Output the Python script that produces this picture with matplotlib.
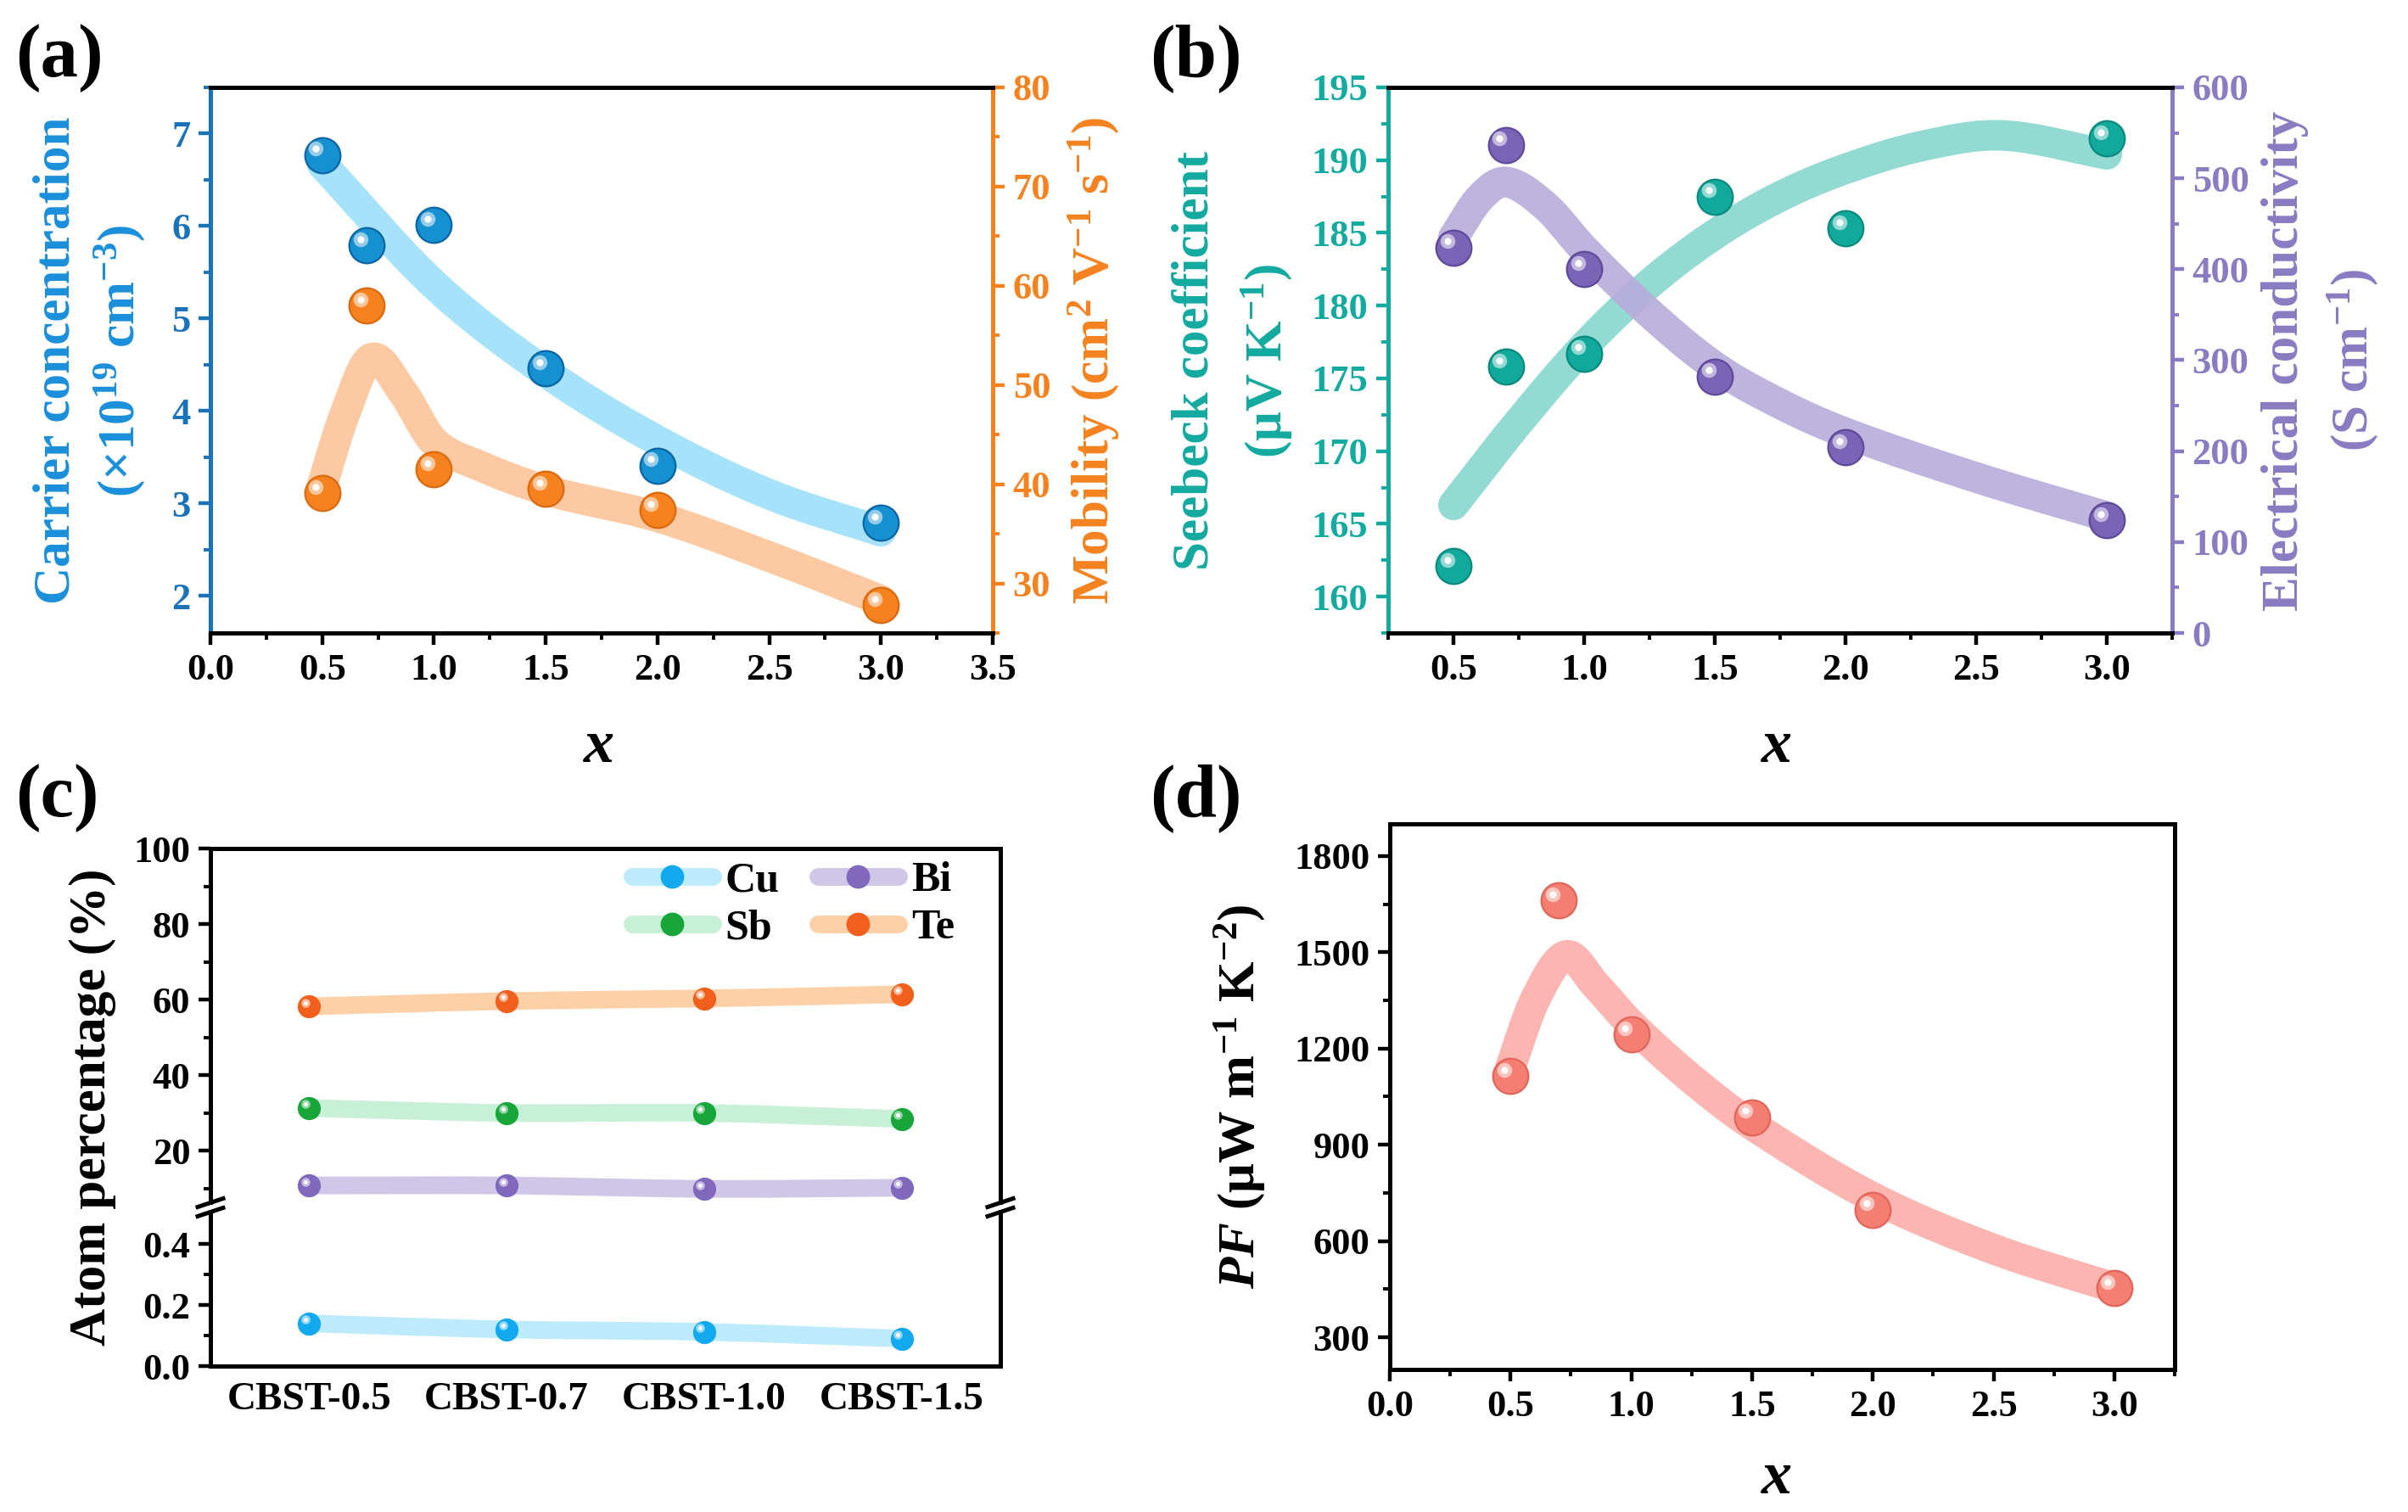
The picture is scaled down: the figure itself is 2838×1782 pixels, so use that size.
import numpy as np
import matplotlib
matplotlib.use('Agg')
import matplotlib.pyplot as plt
from matplotlib.ticker import MultipleLocator, FormatStrFormatter
from matplotlib.transforms import ScaledTranslation
from matplotlib.lines import Line2D

plt.rcParams['font.family'] = ['Liberation Serif', 'DejaVu Serif']
plt.rcParams['font.weight'] = 'bold'
plt.rcParams['mathtext.fontset'] = 'custom'
plt.rcParams['mathtext.rm'] = 'Liberation Serif:bold'
plt.rcParams['mathtext.it'] = 'Liberation Serif:bold:italic'
plt.rcParams['mathtext.bf'] = 'Liberation Serif:bold'
plt.rcParams['axes.unicode_minus'] = True

# ---------------- data ----------------
x_vals = [0.5, 0.7, 1.0, 1.5, 2.0, 3.0]
carrier = [6.77, 5.79, 6.01, 4.46, 3.41, 2.79]
mobility = [39.1, 58.0, 41.5, 39.5, 37.4, 27.8]
seebeck = [162.1, 175.8, 176.7, 187.5, 185.3, 191.5]
conductivity = [424, 537, 400, 282, 204, 124]
power_factor = [1114, 1662, 1244, 986, 698, 453]

# guide-to-eye trend curves
carrier_trend_x = [0.5, 1.0, 1.5, 2.0, 2.5, 3.0]
carrier_trend = [6.67, 5.37, 4.42, 3.68, 3.10, 2.70]
mobility_trend_x = [0.5, 0.6, 0.72, 0.86, 1.0, 1.2, 1.5, 2.0, 2.5, 3.0]
mobility_trend = [39.9, 47.0, 52.7, 49.3, 44.3, 41.9, 39.4, 36.7, 32.7, 28.3]
seebeck_trend_x = [0.5, 0.75, 1.0, 1.25, 1.5, 1.75, 2.0, 2.3, 2.6, 3.0]
seebeck_trend = [166.3, 172.0, 177.2, 181.5, 184.9, 187.5, 189.4, 191.0, 191.7, 190.4]
cond_trend_x = [0.5, 0.6, 0.7, 0.85, 1.0, 1.25, 1.5, 1.75, 2.0, 2.5, 3.0]
cond_trend = [435, 478, 496, 470, 422, 352, 293, 252, 220, 171, 128]
pf_trend_x = [0.5, 0.6, 0.73, 0.85, 1.0, 1.25, 1.5, 2.0, 2.5, 3.0]
pf_trend = [1142, 1350, 1490, 1400, 1275, 1105, 962, 736, 575, 455]

samples = ['CBST-0.5', 'CBST-0.7', 'CBST-1.0', 'CBST-1.5']
cu_pct = [0.14, 0.12, 0.112, 0.09]
bi_pct = [10.8, 10.8, 9.9, 10.2]
sb_pct = [31.3, 30.0, 30.0, 28.4]
te_pct = [58.2, 59.6, 60.3, 61.4]


def smooth(xk, yk, xs):
    """Cubic Hermite curve with centred-difference tangents (Catmull-Rom style)."""
    xk = np.asarray(xk, float)
    yk = np.asarray(yk, float)
    h = np.diff(xk)
    m = np.zeros_like(yk)
    m[1:-1] = (yk[2:] - yk[:-2]) / (xk[2:] - xk[:-2])
    m[0] = (yk[1] - yk[0]) / h[0]
    m[-1] = (yk[-1] - yk[-2]) / h[-1]
    idx = np.clip(np.searchsorted(xk, xs) - 1, 0, len(h) - 1)
    t = (xs - xk[idx]) / h[idx]
    h00 = 2 * t**3 - 3 * t**2 + 1
    h10 = t**3 - 2 * t**2 + t
    h01 = -2 * t**3 + 3 * t**2
    h11 = t**3 - t**2
    return h00 * yk[idx] + h10 * h[idx] * m[idx] + h01 * yk[idx + 1] + h11 * h[idx] * m[idx + 1]


W, H = 2838, 1782
DPI = 200
fig = plt.figure(figsize=(W / DPI, H / DPI), dpi=DPI)

TICK_FS = 16
LAB_FS = 22
PANEL_FS = 32
X_FS = 26


def band(ax, xk, yk, color, lw=13, z=1):
    xs = np.linspace(xk[0], xk[-1], 400)
    ax.plot(xs, smooth(xk, yk, xs), color=color, lw=lw, solid_capstyle='round', zorder=z)


def spheres(ax, x, y, color, edge, ms=15, z=5):
    ax.plot(x, y, 'o', ms=ms, color=color, mec=edge, mew=0.8, zorder=z, clip_on=False)
    off = ax.transData + ScaledTranslation(-ms * 0.18 / 72, ms * 0.18 / 72, fig.dpi_scale_trans)
    ax.plot(x, y, 'o', ms=ms * 0.42, color='white', alpha=0.55, mew=0, zorder=z + 1,
            transform=off, clip_on=False)
    ax.plot(x, y, 'o', ms=ms * 0.2, color='white', alpha=0.95, mew=0, zorder=z + 2,
            transform=off, clip_on=False)


def style_ticks(ax, which_axes='both', color='black', labelcolor='black'):
    ax.tick_params(axis=which_axes, which='major', direction='out', length=5, width=1.6,
                   labelsize=TICK_FS, colors=color, labelcolor=labelcolor)
    ax.tick_params(axis=which_axes, which='minor', direction='out', length=3, width=1.4,
                   colors=color)


def fig_text(px, py, s, **kw):
    fig.text(px / W, 1 - py / H, s, **kw)


# ---------------- (a) ----------------
blue_band, blue_mk, blue_edge = '#a6e3fb', '#1590d0', '#0b65a5'
blue_axis, blue_lab = '#1a72b8', '#1b8fdb'
orange_band, orange_mk, orange_edge = '#fdc9a3', '#f5821f', '#d96a10'

ax_a = fig.add_axes([248 / W, 1 - 746 / H, (1170 - 248) / W, (746 - 103) / H])
ax_a2 = ax_a.twinx()
ax_a.set_xlim(0, 3.5)
ax_a.set_ylim(1.6, 7.5)
ax_a2.set_ylim(25, 80)
band(ax_a, carrier_trend_x, carrier_trend, blue_band)
spheres(ax_a, x_vals, carrier, blue_mk, blue_edge)
band(ax_a2, mobility_trend_x, mobility_trend, orange_band)
spheres(ax_a2, x_vals, mobility, orange_mk, orange_edge)
ax_a.xaxis.set_major_locator(MultipleLocator(0.5))
ax_a.xaxis.set_minor_locator(MultipleLocator(0.25))
ax_a.yaxis.set_major_locator(MultipleLocator(1))
ax_a.yaxis.set_minor_locator(MultipleLocator(0.5))
ax_a2.yaxis.set_major_locator(MultipleLocator(10))
ax_a2.yaxis.set_minor_locator(MultipleLocator(5))
ax_a.xaxis.set_major_formatter(FormatStrFormatter('%.1f'))
style_ticks(ax_a, 'x')
style_ticks(ax_a, 'y', color=blue_axis, labelcolor=blue_axis)
style_ticks(ax_a2, 'y', color=orange_mk, labelcolor=orange_mk)
for a in (ax_a, ax_a2):
    for sp in a.spines.values():
        sp.set_linewidth(1.8)
    a.spines['left'].set_color(blue_axis)
    a.spines['right'].set_color(orange_mk)
fig_text(67, 425, 'Carrier concentration', rotation=90, ha='center', va='center',
         fontsize=LAB_FS, color=blue_lab)
fig_text(141, 425, r'(×10$^{19}$ cm$^{-3}$)', rotation=90, ha='center', va='center',
         fontsize=LAB_FS, color=blue_lab)
fig_text(1289, 425, r'Mobility (cm$^{2}$ V$^{-1}$ s$^{-1}$)', rotation=90, ha='center',
         va='center', fontsize=LAB_FS, color=orange_mk)
fig_text(706, 881, '$x$', ha='center', va='center', fontsize=X_FS)
fig_text(18, 69, '(a)', ha='left', va='center', fontsize=PANEL_FS)

# ---------------- (b) ----------------
teal_band, teal_mk, teal_edge, teal_axis = '#93dad2', '#11a99c', '#0a8a7f', '#13aaa0'
purple_band, purple_mk, purple_edge, purple_axis = '#b8acdb', '#7a64b6', '#5f4a9a', '#8a7bc2'

ax_b = fig.add_axes([1636 / W, 1 - 746 / H, (2560 - 1636) / W, (746 - 103) / H])
ax_b2 = ax_b.twinx()
ax_b.set_xlim(0.25, 3.25)
ax_b.set_ylim(157.5, 195)
ax_b2.set_ylim(0, 600)
band(ax_b, seebeck_trend_x, seebeck_trend, teal_band)
band(ax_b2, cond_trend_x, cond_trend, purple_band)
spheres(ax_b, x_vals, seebeck, teal_mk, teal_edge)
spheres(ax_b2, x_vals, conductivity, purple_mk, purple_edge)
ax_b2.lines[0].set_alpha(0.9)
ax_b.set_xticks([0.5, 1.0, 1.5, 2.0, 2.5, 3.0])
ax_b.xaxis.set_minor_locator(MultipleLocator(0.25))
ax_b.yaxis.set_major_locator(MultipleLocator(5))
ax_b.yaxis.set_minor_locator(MultipleLocator(2.5))
ax_b2.yaxis.set_major_locator(MultipleLocator(100))
ax_b2.yaxis.set_minor_locator(MultipleLocator(50))
ax_b.xaxis.set_major_formatter(FormatStrFormatter('%.1f'))
style_ticks(ax_b, 'x')
style_ticks(ax_b, 'y', color=teal_axis, labelcolor=teal_axis)
style_ticks(ax_b2, 'y', color=purple_axis, labelcolor=purple_axis)
for a in (ax_b, ax_b2):
    for sp in a.spines.values():
        sp.set_linewidth(1.8)
    a.spines['left'].set_color(teal_axis)
    a.spines['right'].set_color(purple_axis)
fig_text(1408, 425, 'Seebeck coefficient', rotation=90, ha='center', va='center',
         fontsize=LAB_FS, color=teal_axis)
fig_text(1493, 425, r'(μV K$^{-1}$)', rotation=90, ha='center', va='center',
         fontsize=LAB_FS, color=teal_axis)
fig_text(2693, 425, 'Electrical conductivity', rotation=90, ha='center', va='center',
         fontsize=LAB_FS, color=purple_axis)
fig_text(2773, 425, r'(S cm$^{-1}$)', rotation=90, ha='center', va='center',
         fontsize=LAB_FS, color=purple_axis)
fig_text(2094, 881, '$x$', ha='center', va='center', fontsize=X_FS)
fig_text(1355, 69, '(b)', ha='left', va='center', fontsize=PANEL_FS)

# ---------------- (c) ----------------
cu_band, cu_mk = '#bdeafc', '#12a9ef'
sb_band, sb_mk = '#c8f0d6', '#18a63b'
bi_band, bi_mk = '#d0c6e7', '#8068bd'
te_band, te_mk = '#fdd0a8', '#f0601c'

c_left, c_right, c_top, c_brk, c_bot = 248, 1179, 1000, 1423, 1610
ax_ct = fig.add_axes([c_left / W, 1 - c_brk / H, (c_right - c_left) / W, (c_brk - c_top) / H])
ax_cb = fig.add_axes([c_left / W, 1 - c_bot / H, (c_right - c_left) / W, (c_bot - c_brk) / H])
xi = np.arange(len(samples))
for ax in (ax_ct, ax_cb):
    ax.set_xlim(-0.5, 3.5)
    for sp in ax.spines.values():
        sp.set_linewidth(1.8)
ax_ct.set_ylim(5, 100)
ax_cb.set_ylim(0, 0.52)
ax_ct.spines['bottom'].set_visible(False)
ax_cb.spines['top'].set_visible(False)
for vals, bcol, mcol, ax in ((te_pct, te_band, te_mk, ax_ct), (sb_pct, sb_band, sb_mk, ax_ct),
                             (bi_pct, bi_band, bi_mk, ax_ct), (cu_pct, cu_band, cu_mk, ax_cb)):
    band(ax, xi, vals, bcol, lw=7.5)
    spheres(ax, xi, vals, mcol, mcol, ms=9)
ax_ct.set_xticks([])
ax_ct.set_yticks([20, 40, 60, 80, 100])
ax_ct.yaxis.set_minor_locator(MultipleLocator(10))
ax_cb.set_yticks([0.0, 0.2, 0.4])
ax_cb.yaxis.set_minor_locator(MultipleLocator(0.1))
ax_cb.yaxis.set_major_formatter(FormatStrFormatter('%.1f'))
ax_cb.set_xticks(xi)
ax_cb.set_xticklabels(samples)
style_ticks(ax_ct, 'y')
style_ticks(ax_cb, 'y')
ax_cb.tick_params(axis='x', length=0, labelsize=TICK_FS + 1, pad=7)
# break marks
for bx in (c_left, c_right):
    fig.add_artist(plt.Polygon([[(bx - 4) / W, 1 - (c_brk - 3) / H], [(bx + 4) / W, 1 - (c_brk - 3) / H],
                                [(bx + 4) / W, 1 - (c_brk + 3) / H], [(bx - 4) / W, 1 - (c_brk + 3) / H]],
                               closed=True, facecolor='white', edgecolor='none',
                               transform=fig.transFigure, zorder=19))
    for dy in (-5.5, 5.5):
        fig.add_artist(Line2D([(bx - 15) / W, (bx + 15) / W],
                              [1 - (c_brk + dy + 5) / H, 1 - (c_brk + dy - 5) / H],
                              color='black', lw=1.8, transform=fig.transFigure, zorder=20))
handles = [Line2D([], [], color=c[0], lw=7.5, marker='o', ms=9, mfc=c[1], mec=c[1],
                  solid_capstyle='round')
           for c in ((cu_band, cu_mk), (sb_band, sb_mk), (bi_band, bi_mk), (te_band, te_mk))]
ax_ct.legend(handles, ['Cu', 'Sb', 'Bi', 'Te'], ncol=2, loc='upper right',
             bbox_to_anchor=(0.99, 1.07), frameon=False, fontsize=18,
             handlelength=1.9, columnspacing=0.9, handletextpad=0.3, labelspacing=0.2)
fig_text(109, 1305, 'Atom percentage (%)', rotation=90, ha='center', va='center',
         fontsize=LAB_FS, color='black')
fig_text(18, 941, '(c)', ha='left', va='center', fontsize=PANEL_FS)

# ---------------- (d) ----------------
pink_band, pink_mk, pink_edge = '#fcb5b0', '#f57e72', '#e0655a'
ax_d = fig.add_axes([1638 / W, 1 - 1614 / H, (2563 - 1638) / W, (1614 - 971) / H])
ax_d.set_xlim(0, 3.25)
ax_d.set_ylim(200, 1900)
band(ax_d, pf_trend_x, pf_trend, pink_band)
spheres(ax_d, x_vals, power_factor, pink_mk, pink_edge)
ax_d.xaxis.set_major_locator(MultipleLocator(0.5))
ax_d.xaxis.set_minor_locator(MultipleLocator(0.25))
ax_d.set_yticks([300, 600, 900, 1200, 1500, 1800])
ax_d.yaxis.set_minor_locator(MultipleLocator(150))
ax_d.xaxis.set_major_formatter(FormatStrFormatter('%.1f'))
style_ticks(ax_d, 'both')
for sp in ax_d.spines.values():
    sp.set_linewidth(1.8)
fig_text(1461, 1292, r'$PF$ (μW m$^{-1}$ K$^{-2}$)', rotation=90, ha='center', va='center',
         fontsize=LAB_FS, color='black')
fig_text(2094, 1743, '$x$', ha='center', va='center', fontsize=X_FS)
fig_text(1355, 941, '(d)', ha='left', va='center', fontsize=PANEL_FS)

fig.savefig('out.png', dpi=DPI)
